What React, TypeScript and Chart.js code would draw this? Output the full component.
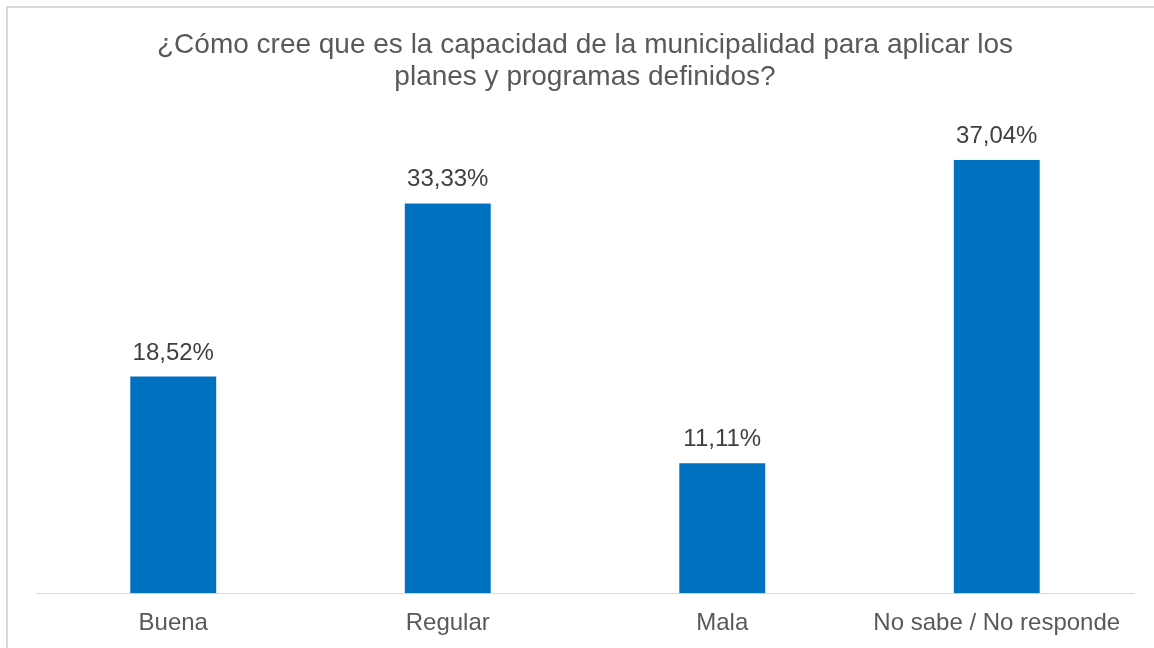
import React, { useEffect, useRef } from "react";
import { Chart, registerables } from "chart.js";

Chart.register(...registerables);

const titleLines = [
  "¿Cómo cree que es la capacidad de la municipalidad para aplicar los",
  "planes y programas definidos?",
];
const categories = ["Buena", "Regular", "Mala", "No sabe / No responde"];
const values = [18.52, 33.33, 11.11, 37.04];

const FONT = "'Liberation Sans', Arial, sans-serif";

const labelPlugin = {
  id: "barLabels",
  afterDatasetsDraw(chart: any) {
    const ctx = chart.ctx;
    const meta = chart.getDatasetMeta(0);
    ctx.save();
    ctx.font = `24px ${FONT}`;
    ctx.fillStyle = "#404040";
    ctx.textAlign = "center";
    ctx.textBaseline = "alphabetic";
    meta.data.forEach((bar: any, i: number) => {
      const v = values[i];
      const txt = v.toFixed(2).replace(".", ",") + "%";
      ctx.fillText(txt, bar.x, bar.y - 17);
    });
    ctx.restore();
  },
};

export default function App() {
  const ref = useRef<HTMLCanvasElement | null>(null);
  useEffect(() => {
    if (!ref.current) return;
    const chart = new Chart(ref.current, {
      type: "bar",
      data: {
        labels: categories,
        datasets: [
          {
            data: values,
            backgroundColor: "#0070C0",
            borderWidth: 0,
            barPercentage: 0.313,
            categoryPercentage: 1,
          },
        ],
      },
      options: {
        animation: false,
        responsive: false,
        devicePixelRatio: 1,
        layout: { padding: { left: 36, right: 20, top: 0, bottom: 0 } },
        plugins: {
          legend: { display: false },
          tooltip: { enabled: false },
          title: {
            display: true,
            text: titleLines,
            color: "#595959",
            font: { family: FONT, size: 28, weight: "normal", lineHeight: 1.15 },
            padding: { top: 29, bottom: 32 },
          },
        },
        scales: {
          x: {
            grid: { display: false, drawTicks: false },
            border: { display: true, color: "#d9d9d9", width: 1 },
            ticks: {
              color: "#595959",
              font: { family: FONT, size: 24 },
              padding: 16,
              maxRotation: 0,
              autoSkip: false,
            },
          },
          y: {
            display: false,
            min: 0,
            max: 40,
          },
        },
      },
      plugins: [labelPlugin],
    });
    return () => chart.destroy();
  }, []);
  return (
    <div style={{ position: "fixed", left: 0, top: 0, width: 1154, height: 648, background: "#fff", overflow: "hidden" }}>
      <div
        style={{
          position: "absolute",
          left: 6,
          top: 6,
          width: 1200,
          height: 700,
          border: "2px solid #d9d9d9",
        }}
      />
      <canvas ref={ref} width={1154} height={654} style={{ position: "absolute", left: 0, top: 0, width: 1154, height: 654 }} />
    </div>
  );
}
